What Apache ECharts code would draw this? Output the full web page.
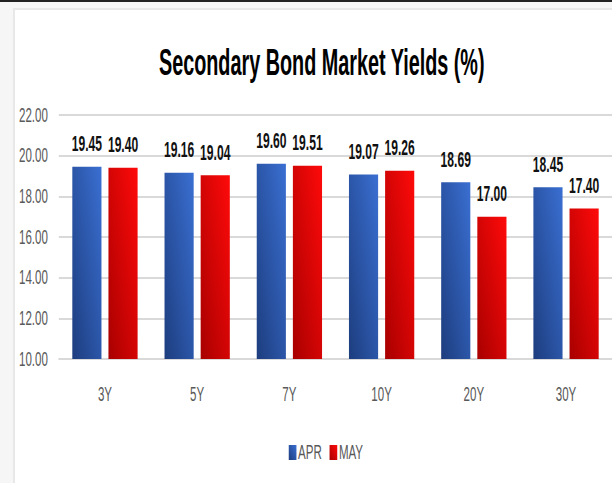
<!DOCTYPE html>
<html>
<head>
<meta charset="utf-8">
<script src="https://cdn.jsdelivr.net/npm/echarts@6/dist/echarts.min.js"></script>
<style>
  html, body { margin: 0; padding: 0; background: #f6f6f6; }
  #frame { position: absolute; left: 0; top: 0; width: 612px; height: 483px; overflow: hidden; background: #f6f6f6; }
  #topbar { position: absolute; left: 0; top: 0; width: 612px; height: 2px; background: #222; }
  #panel { position: absolute; left: 13px; top: 8px; width: 610px; height: 490px; background: #fff; border-left: 2px solid #e8e8e8; border-top: 2px solid #e8e8e8; }
  #chart { position: absolute; left: 0; top: 0; width: 1113px; height: 483px; transform: scaleX(0.55); transform-origin: 0 0; }
</style>
</head>
<body>
<div id="frame">
  <div id="topbar"></div>
  <div id="panel"></div>
  <div id="chart"></div>
</div>
<script>
const titleText = 'Secondary Bond Market Yields (%)';
const categories = ['3Y', '5Y', '7Y', '10Y', '20Y', '30Y'];
const seriesNames = ['APR', 'MAY'];
const aprValues = [19.45, 19.16, 19.60, 19.07, 18.69, 18.45];
const mayValues = [19.40, 19.04, 19.51, 19.26, 17.00, 17.40];
const yMin = 10, yMax = 22, yStep = 2;

const chart = echarts.init(document.getElementById('chart'), null, { renderer: 'svg' });

function grad(dark, light) {
  return new echarts.graphic.LinearGradient(0, 1, 1, 0, [
    { offset: 0, color: dark },
    { offset: 1, color: light }
  ]);
}

const labelStyle = {
  show: true,
  position: 'top',
  distance: 12,
  fontFamily: 'Liberation Sans',
  fontWeight: 'bold',
  fontSize: 22,
  color: '#111',
  formatter: p => p.value.toFixed(2)
};

chart.setOption({
  animation: false,
  backgroundColor: 'transparent',
  graphic: [{
    type: 'text',
    x: 585,
    y: 63,
    style: {
      text: titleText,
      fontFamily: 'Liberation Sans',
      fontWeight: 'bold',
      fontSize: 36,
      fill: '#000',
      align: 'center',
      verticalAlign: 'middle'
    }
  }],
  legend: {
    data: seriesNames,
    left: 520,
    top: 437,
    itemWidth: 14,
    itemHeight: 15,
    itemGap: 14,
    icon: 'rect',
    textStyle: { fontFamily: 'Liberation Sans', fontSize: 21, color: '#595959', padding: [0, 0, 0, -2] }
  },
  grid: { left: 107, top: 115, height: 244, width: 1015, containLabel: false },
  xAxis: {
    type: 'category',
    data: categories,
    axisLine: { show: true, lineStyle: { color: '#d9d9d9', width: 2 } },
    axisTick: { show: false },
    axisLabel: { margin: 25, fontFamily: 'Liberation Sans', fontSize: 21, color: '#595959' }
  },
  yAxis: {
    type: 'value',
    min: yMin,
    max: yMax,
    interval: yStep,
    axisLine: { show: false },
    axisTick: { show: false },
    splitLine: { lineStyle: { color: '#d9d9d9', width: 2 } },
    axisLabel: { margin: 20, fontFamily: 'Liberation Sans', fontSize: 21, color: '#595959', formatter: v => v.toFixed(2) }
  },
  series: [
    {
      name: seriesNames[0],
      type: 'bar',
      data: aprValues,
      barWidth: 53,
      barGap: '24%',
      itemStyle: { color: grad('#1d3d7e', '#3a6fd2') },
      label: labelStyle
    },
    {
      name: seriesNames[1],
      type: 'bar',
      data: mayValues,
      barWidth: 53,
      itemStyle: { color: grad('#a80000', '#ff0a0a') },
      label: labelStyle
    }
  ]
});
</script>
</body>
</html>
